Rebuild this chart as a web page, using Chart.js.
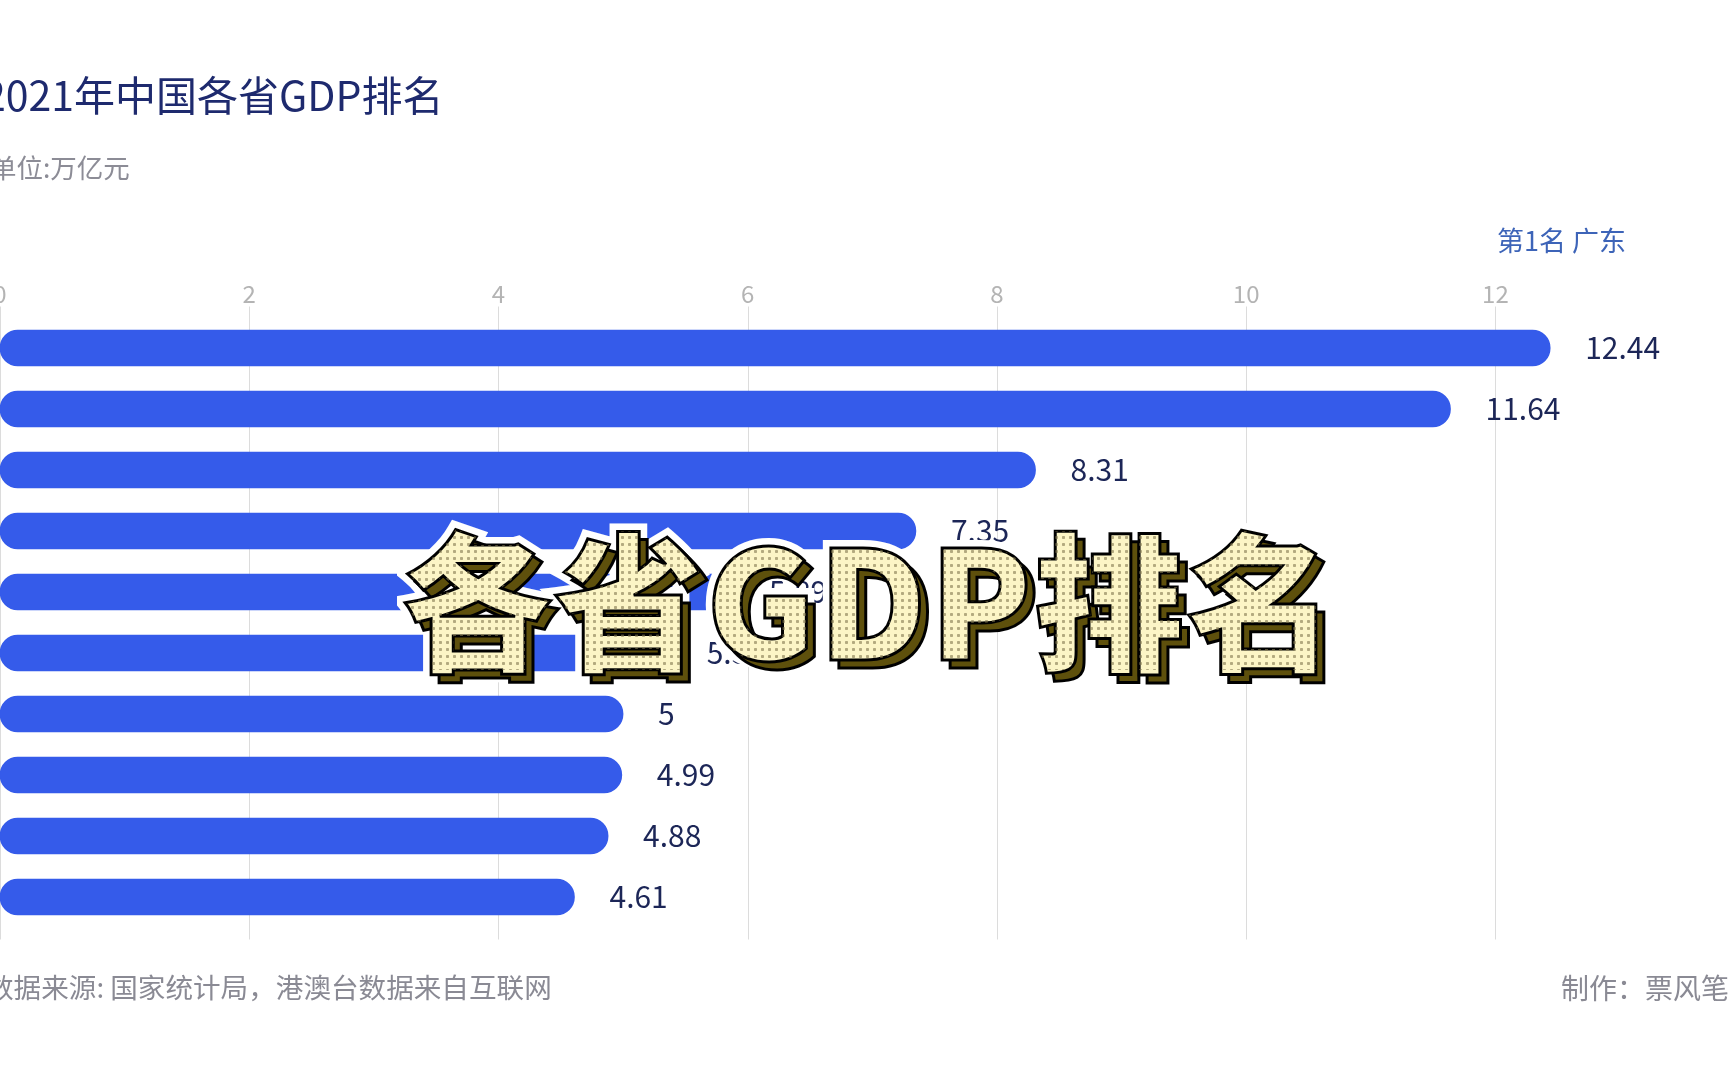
<!DOCTYPE html>
<html>
<head>
<meta charset="utf-8">
<script src="https://cdn.jsdelivr.net/npm/chart.js@4.4.0/dist/chart.umd.min.js"></script>
<style>
  html, body { margin: 0; padding: 0; background: #fff; overflow: hidden; }
  body { width: 1728px; height: 1080px; position: relative; font-family: "Noto Sans CJK SC", "Noto Sans", sans-serif; }
  #wrap { position: absolute; left: 0; top: 0; width: 1728px; height: 1080px; }
  .txt { position: absolute; white-space: nowrap; line-height: 1; }
  .title { left: -17px; top: 73px; font-size: 41px; color: #1e2a6e; }
  .unit { left: -10px; top: 154px; font-size: 26.5px; color: #8c8c96; }
  .rank { left: 1497px; top: 226px; font-size: 27px; color: #3d64b8; }
  .src { left: -14px; top: 973px; font-size: 27.6px; color: #8a8a94; }
  .author { left: 1561px; top: 973px; font-size: 28px; color: #8a8a94; }

  /* big overlay headline */
  .big-wrap { position: absolute; left: 402px; top: 520px; isolation: isolate;
    font-size: 150px; font-weight: 900; line-height: 1; white-space: nowrap; letter-spacing: 2px; }
  .big-wrap::before { content: attr(data-t); position: absolute; left: 0; top: 0;
    color: #fff; -webkit-text-stroke: 16px #fff; text-shadow: 8px 8px 0 #fff; }
  .big { position: relative; z-index: 0; color: #fcf5c6; -webkit-text-stroke: 3px #000; }
  .big::before { content: attr(data-t); position: absolute; left: 8px; top: 8px; z-index: -1;
    color: #5e500c; -webkit-text-stroke: 3px #000; }
  .big::after { content: attr(data-t); position: absolute; left: 0; top: 0;
    color: transparent; -webkit-text-stroke: 0;
    background: radial-gradient(circle, rgba(130,120,80,0.6) 1.3px, transparent 2px) 0 0 / 7px 7px;
    -webkit-background-clip: text; background-clip: text; }
</style>
</head>
<body>
<div id="wrap"><canvas id="myChart"></canvas></div>

<div class="txt title">2021年中国各省GDP排名</div>
<div class="txt unit">单位:万亿元</div>
<div class="txt rank">第1名 广东</div>
<div class="txt src">数据来源: 国家统计局，港澳台数据来自互联网</div>
<div class="txt author">制作：票风笔</div>
<div class="big-wrap" data-t="各省GDP排名"><div class="big" data-t="各省GDP排名">各省GDP排名</div></div>

<script>
// ------------ data -------------
const provinces = ['广东', '江苏', '山东', '浙江', '河南', '四川', '湖北', '台湾', '福建', '湖南'];
const gdp = [12.44, 11.64, 8.31, 7.35, 5.89, 5.39, 5, 4.99, 4.88, 4.61];
const xMax = 13;
const tickStep = 2;

// vertical grid lines, a bit longer than the plot area
const gridLines = {
  id: 'gridLines',
  beforeDatasetsDraw(chart) {
    const ctx = chart.ctx;
    const x = chart.scales.x;
    const area = chart.chartArea;
    ctx.save();
    ctx.strokeStyle = '#dcdcdc';
    ctx.lineWidth = 1;
    x.ticks.forEach(t => {
      const px = Math.round(x.getPixelForValue(t.value)) + 0.5;
      ctx.beginPath();
      ctx.moveTo(px, area.top - 11);
      ctx.lineTo(px, area.bottom + 12);
      ctx.stroke();
    });
    ctx.restore();
  }
};

// value labels at the bar ends
const valueLabels = {
  id: 'valueLabels',
  afterDatasetsDraw(chart) {
    const ctx = chart.ctx;
    const meta = chart.getDatasetMeta(0);
    ctx.save();
    ctx.font = '30px "Noto Sans CJK SC"';
    ctx.fillStyle = '#1c2657';
    ctx.textAlign = 'left';
    ctx.textBaseline = 'middle';
    meta.data.forEach((bar, i) => {
      ctx.fillText(String(gdp[i]), bar.x + 35, bar.y);
    });
    ctx.restore();
  }
};

const config = {
  type: 'bar',
  data: {
    labels: provinces,
    datasets: [{
      label: 'GDP',
      data: gdp,
      backgroundColor: '#355bea',
      borderRadius: 18,
      borderSkipped: false,
      barThickness: 36
    }]
  },
  options: {
    indexAxis: 'y',
    responsive: true,
    maintainAspectRatio: false,
    animation: false,
    layout: { padding: { top: 277.5, bottom: 152.5, left: 0, right: 108 } },
    plugins: { legend: { display: false }, tooltip: { enabled: false } },
    scales: {
      x: {
        position: 'top',
        min: 0,
        max: xMax,
        afterFit: s => { s.height = 40; s.paddingLeft = 0; s.paddingRight = 0; },
        afterBuildTicks: s => { s.ticks = s.ticks.filter(t => t.value % tickStep === 0); },
        grid: { display: false },
        border: { display: false },
        ticks: {
          stepSize: tickStep,
          padding: 1,
          color: '#b4b4b4',
          font: { family: 'Noto Sans CJK SC', size: 24 }
        }
      },
      y: { display: false }
    }
  },
  plugins: [gridLines, valueLabels]
};

var myChart = new Chart(document.getElementById('myChart'), config);
</script>
</body>
</html>
